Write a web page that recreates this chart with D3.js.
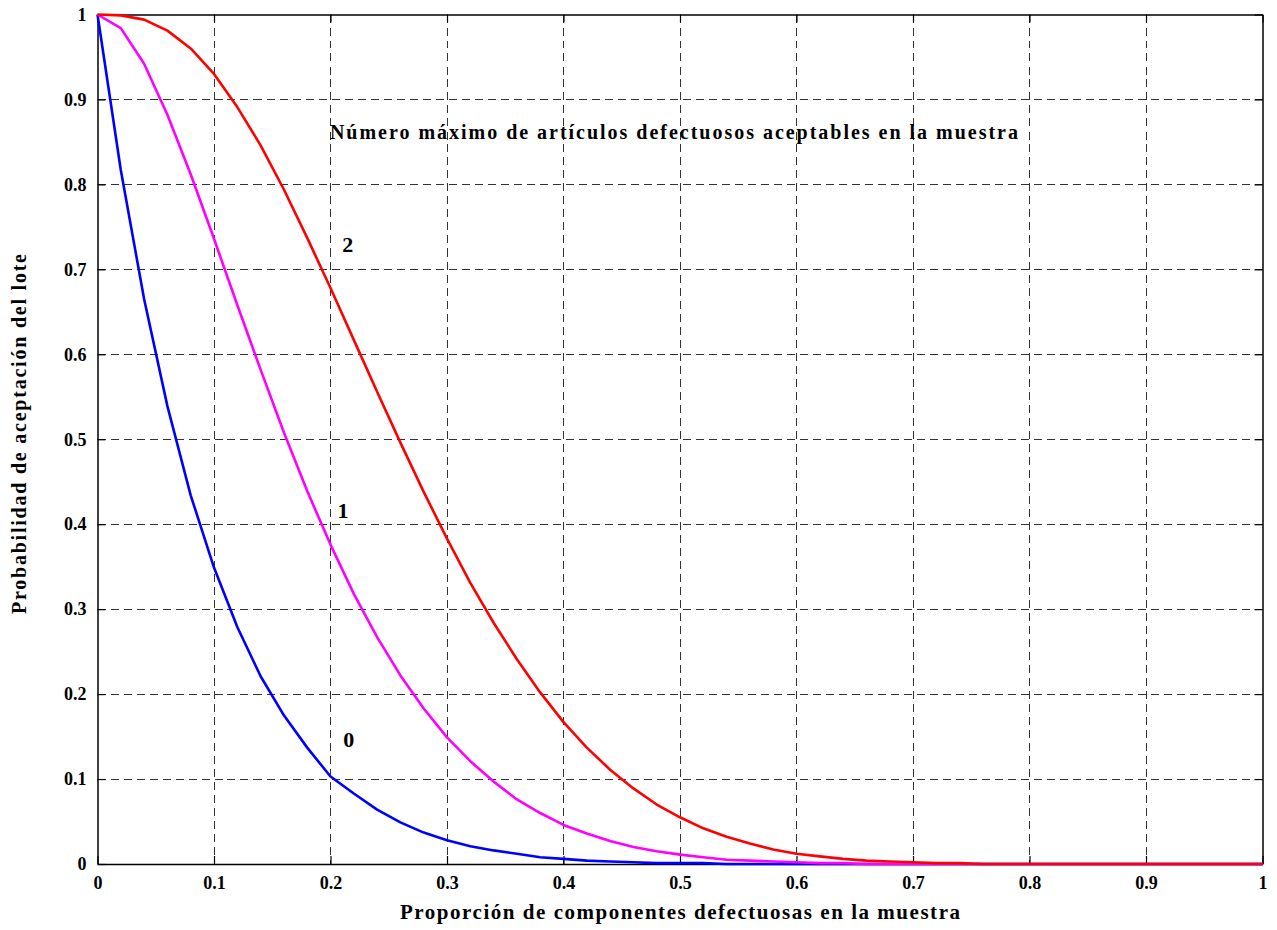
<!DOCTYPE html>
<html>
<head>
<meta charset="utf-8">
<script src="https://cdn.jsdelivr.net/npm/d3@7"></script>
<style>
  html, body { margin: 0; padding: 0; background: #fff; }
  svg { display: block; }
  text { font-family: "Liberation Serif", "Times New Roman", serif; font-weight: bold; fill: #000; }
</style>
</head>
<body>
<svg id="chart" width="1277" height="930"></svg>
<script>
// Proportion of defective components in the sample
const proportion = [
  0.00, 0.02, 0.04, 0.06, 0.08, 0.10, 0.12, 0.14, 0.16, 0.18,
  0.20, 0.22, 0.24, 0.26, 0.28, 0.30, 0.32, 0.34, 0.36, 0.38,
  0.40, 0.42, 0.44, 0.46, 0.48, 0.50, 0.52, 0.54, 0.56, 0.58,
  0.60, 0.62, 0.64, 0.66, 0.68, 0.70, 0.72, 0.74, 0.76, 0.78,
  0.80, 0.82, 0.84, 0.86, 0.88, 0.90, 0.92, 0.94, 0.96, 0.98, 1.00
];

// Probability of accepting the lot, max. 0 defectives accepted
const accept0 = [
  1.000, 0.817, 0.665, 0.539, 0.434, 0.349, 0.279, 0.221, 0.175, 0.137,
  0.103, 0.083, 0.064, 0.049, 0.037, 0.028, 0.021, 0.016, 0.012, 0.008,
  0.006, 0.004, 0.003, 0.002, 0.001, 0.001, 0.001, 0.000, 0.000, 0.000,
  0.000, 0.000, 0.000, 0.000, 0.000, 0.000, 0.000, 0.000, 0.000, 0.000,
  0.000, 0.000, 0.000, 0.000, 0.000, 0.000, 0.000, 0.000, 0.000, 0.000, 0.000
];

// max. 1 defective accepted
const accept1 = [
  1.000, 0.984, 0.942, 0.882, 0.812, 0.736, 0.658, 0.582, 0.508, 0.439,
  0.376, 0.318, 0.267, 0.222, 0.183, 0.149, 0.121, 0.097, 0.076, 0.060,
  0.046, 0.036, 0.027, 0.020, 0.015, 0.011, 0.008, 0.005, 0.004, 0.003,
  0.002, 0.001, 0.001, 0.000, 0.000, 0.000, 0.000, 0.000, 0.000, 0.000,
  0.000, 0.000, 0.000, 0.000, 0.000, 0.000, 0.000, 0.000, 0.000, 0.000, 0.000
];

// max. 2 defectives accepted
const accept2 = [
  1.000, 0.999, 0.994, 0.981, 0.960, 0.930, 0.891, 0.846, 0.794, 0.737,
  0.678, 0.617, 0.556, 0.496, 0.438, 0.383, 0.331, 0.284, 0.241, 0.202,
  0.167, 0.137, 0.111, 0.089, 0.070, 0.055, 0.042, 0.032, 0.024, 0.017,
  0.012, 0.009, 0.006, 0.004, 0.003, 0.002, 0.001, 0.001, 0.000, 0.000,
  0.000, 0.000, 0.000, 0.000, 0.000, 0.000, 0.000, 0.000, 0.000, 0.000, 0.000
];

const tickValues = [0, 0.1, 0.2, 0.3, 0.4, 0.5, 0.6, 0.7, 0.8, 0.9, 1];
const tickLabels = ["0", "0.1", "0.2", "0.3", "0.4", "0.5", "0.6", "0.7", "0.8", "0.9", "1"];

const curveLabels = ["0", "1", "2"];
const curveLabelAt = [[0.211, 0.138], [0.206, 0.407], [0.210, 0.720]];

const xTitle = "Proporción de componentes defectuosas en la muestra";
const yTitle = "Probabilidad de aceptación del lote";
const note = "Número máximo de artículos defectuosos aceptables en la muestra";
const noteAt = [0.1995, 0.853];

const series = [
  { values: accept0, color: "#0000ff" },
  { values: accept1, color: "#ff00ff" },
  { values: accept2, color: "#ff0000" }
];

// Plot box
const boxLeft = 97.5, boxRight = 1262.5, boxTop = 14.5, boxBottom = 864;

const svg = d3.select("#chart");
const x = d3.scaleLinear().domain([0, 1]).range([boxLeft, boxRight]);
const y = d3.scaleLinear().domain([0, 1]).range([boxBottom, boxTop]);

// Dashed grid
const grid = svg.append("g").attr("stroke", "#333").attr("stroke-width", 1)
  .attr("stroke-dasharray", "8,5").attr("shape-rendering", "crispEdges");
grid.selectAll("line.v").data(tickValues.slice(1, -1)).join("line")
  .attr("class", "v")
  .attr("x1", d => x(d)).attr("x2", d => x(d)).attr("y1", boxTop).attr("y2", boxBottom);
grid.selectAll("line.h").data(tickValues.slice(1, -1)).join("line")
  .attr("class", "h")
  .attr("x1", boxLeft).attr("x2", boxRight).attr("y1", d => y(d)).attr("y2", d => y(d));

// Axes with inward ticks on all four sides
const tickFmt = (d, i) => tickLabels[i];
const axisBottom = d3.axisBottom(x).tickValues(tickValues).tickFormat(tickFmt).tickSizeInner(-8).tickSizeOuter(0).tickPadding(12);
const axisLeft = d3.axisLeft(y).tickValues(tickValues).tickFormat(tickFmt).tickSizeInner(-8).tickSizeOuter(0).tickPadding(11);
const axisTop = d3.axisTop(x).tickValues(tickValues).tickFormat("").tickSizeInner(-8).tickSizeOuter(0);
const axisRight = d3.axisRight(y).tickValues(tickValues).tickFormat("").tickSizeInner(-8).tickSizeOuter(0);

function styleAxis(g) {
  g.select(".domain").attr("stroke", "#000").attr("stroke-width", 1.5);
  g.selectAll(".tick line").attr("stroke", "#000").attr("stroke-width", 1.2);
  g.selectAll("text").attr("font-family", "'Liberation Serif', serif")
    .attr("font-weight", "bold").attr("font-size", 18).attr("fill", "#000");
}

svg.append("g").attr("transform", `translate(0,${boxBottom})`).call(axisBottom).call(styleAxis);
svg.append("g").attr("transform", `translate(${boxLeft},0)`).call(axisLeft).call(styleAxis);
svg.append("g").attr("transform", `translate(0,${boxTop})`).call(axisTop).call(styleAxis);
svg.append("g").attr("transform", `translate(${boxRight},0)`).call(axisRight).call(styleAxis);

// Operating characteristic curves
const line = d3.line().x((d, i) => x(proportion[i])).y(d => y(d));
svg.append("g").selectAll("path").data(series).join("path")
  .attr("d", s => line(s.values))
  .attr("fill", "none")
  .attr("stroke", s => s.color)
  .attr("stroke-width", 2.6)
  .attr("stroke-linejoin", "round");

// Curve labels
svg.append("g").selectAll("text").data(curveLabels).join("text")
  .attr("x", (d, i) => x(curveLabelAt[i][0]))
  .attr("y", (d, i) => y(curveLabelAt[i][1]))
  .attr("font-size", 22)
  .text(d => d);

svg.append("text")
  .attr("x", x(noteAt[0])).attr("y", y(noteAt[1]))
  .attr("font-size", 20)
  .attr("textLength", 688).attr("lengthAdjust", "spacing")
  .text(note);

// Axis titles
svg.append("text")
  .attr("x", (boxLeft + boxRight) / 2).attr("y", 919)
  .attr("text-anchor", "middle").attr("font-size", 21)
  .attr("textLength", 560).attr("lengthAdjust", "spacing")
  .text(xTitle);

svg.append("text")
  .attr("transform", `translate(26,434) rotate(-90)`)
  .attr("text-anchor", "middle").attr("font-size", 20)
  .attr("textLength", 360).attr("lengthAdjust", "spacing")
  .text(yTitle);
</script>
</body>
</html>
